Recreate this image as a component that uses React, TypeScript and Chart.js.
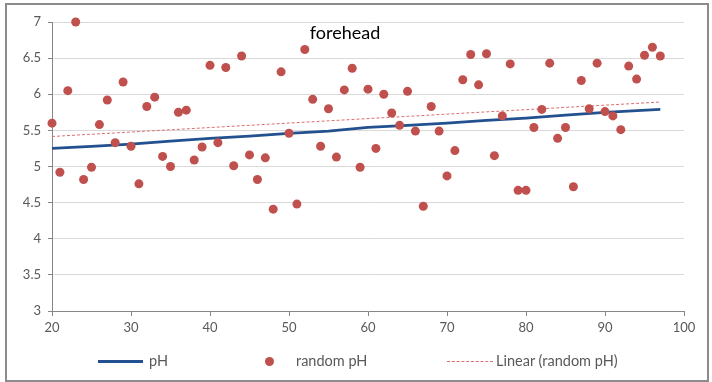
import React, { useEffect, useRef } from "react";
import { Chart, registerables } from "chart.js";

Chart.register(...registerables);

const ages: number[] = [
  20, 21, 22, 23, 24, 25, 26, 27, 28, 29, 30, 31, 32, 33, 34, 35, 36, 37, 38, 39,
  40, 41, 42, 43, 44, 45, 46, 47, 48, 49, 50, 51, 52, 53, 54, 55, 56, 57, 58, 59,
  60, 61, 62, 63, 64, 65, 66, 67, 68, 69, 70, 71, 72, 73, 74, 75, 76, 77, 78, 79,
  80, 81, 82, 83, 84, 85, 86, 87, 88, 89, 90, 91, 92, 93, 94, 95, 96, 97,
];
const randomPH: number[] = [
  5.6, 4.92, 6.05, 7.0, 4.82, 4.99, 5.58, 5.92, 5.33, 6.17, 5.28, 4.76, 5.83, 5.96, 5.14, 5.0, 5.75, 5.78, 5.09, 5.27,
  6.4, 5.33, 6.37, 5.01, 6.53, 5.16, 4.82, 5.12, 4.41, 6.31, 5.46, 4.48, 6.62, 5.93, 5.28, 5.8, 5.13, 6.06, 6.36, 4.99,
  6.07, 5.25, 6.0, 5.74, 5.57, 6.04, 5.49, 4.45, 5.83, 5.49, 4.87, 5.22, 6.2, 6.55, 6.13, 6.56, 5.15, 5.7, 6.42, 4.67,
  4.67, 5.54, 5.79, 6.43, 5.39, 5.54, 4.72, 6.19, 5.8, 6.43, 5.76, 5.7, 5.51, 6.39, 6.21, 6.54, 6.65, 6.53,
];
const phAges: number[] = [20, 25, 30, 35, 40, 45, 50, 55, 60, 65, 70, 75, 80, 85, 90, 97];
const phValues: number[] = [5.25, 5.28, 5.31, 5.35, 5.39, 5.42, 5.46, 5.49, 5.54, 5.57, 5.6, 5.64, 5.67, 5.71, 5.75, 5.79];
const xTicks: number[] = [20, 30, 40, 50, 60, 70, 80, 90, 100];
const yTicks: number[] = [3, 3.5, 4, 4.5, 5, 5.5, 6, 6.5, 7];
const titleText = "forehead";
const legendLabels = ["pH", "random pH", "Linear (random pH)"];

const BLUE = "#23508f";
const RED = "#c0504d";
const TREND = "#d9706e";
const FONT = "Lato, 'Open Sans', sans-serif";

function linearFit(xs: number[], ys: number[]) {
  const n = xs.length;
  let sx = 0, sy = 0, sxx = 0, sxy = 0;
  for (let i = 0; i < n; i++) {
    sx += xs[i]; sy += ys[i]; sxx += xs[i] * xs[i]; sxy += xs[i] * ys[i];
  }
  const slope = (n * sxy - sx * sy) / (n * sxx - sx * sx);
  const intercept = (sy - slope * sx) / n;
  return { slope, intercept };
}

const titlePlugin = {
  id: "insideTitle",
  afterDraw(chart: any) {
    const ctx = chart.ctx;
    ctx.save();
    ctx.font = `18px ${FONT}`;
    ctx.fillStyle = "#000";
    ctx.textAlign = "center";
    ctx.textBaseline = "middle";
    ctx.fillText(titleText, 345, 33);
    ctx.restore();
  },
};

export default function App() {
  const canvasRef = useRef<HTMLCanvasElement | null>(null);

  useEffect(() => {
    document.body.style.margin = "0";
    const fit = linearFit(ages, randomPH);
    const x0 = ages[0];
    const x1 = ages[ages.length - 1];
    const chart = new Chart(canvasRef.current as HTMLCanvasElement, {
      type: "scatter",
      data: {
        datasets: [
          {
            label: legendLabels[1],
            data: ages.map((a, i) => ({ x: a, y: randomPH[i] })),
            backgroundColor: RED,
            borderWidth: 0,
            pointRadius: 4.5,
            clip: false,
            order: 0,
          } as any,
          {
            label: legendLabels[0],
            type: "line",
            data: phAges.map((a, i) => ({ x: a, y: phValues[i] })),
            borderColor: BLUE,
            borderWidth: 2.75,
            pointRadius: 0,
            fill: false,
            tension: 0,
            order: 2,
          } as any,
          {
            label: legendLabels[2],
            type: "line",
            data: [
              { x: x0, y: fit.intercept + fit.slope * x0 },
              { x: x1, y: fit.intercept + fit.slope * x1 },
            ],
            borderColor: TREND,
            borderWidth: 1,
            borderDash: [3, 2],
            pointRadius: 0,
            fill: false,
            order: 1,
          } as any,
        ],
      },
      options: {
        animation: false,
        responsive: false,
        maintainAspectRatio: false,
        layout: { padding: { left: 0, top: 22, right: 28, bottom: 41 } },
        plugins: {
          legend: { display: false },
          tooltip: { enabled: false },
          title: { display: false },
        },
        scales: {
          x: {
            type: "linear",
            min: 20,
            max: 100,
            afterBuildTicks: (s: any) => {
              s.ticks = xTicks.map((v) => ({ value: v }));
            },
            afterFit: (s: any) => {
              s.height = 30;
            },
            border: { color: "#868686", width: 1 },
            grid: {
              drawOnChartArea: false,
              drawTicks: true,
              tickLength: 5,
              tickColor: "#868686",
            },
            ticks: {
              font: { family: FONT, size: 13 },
              color: "#595959",
              padding: 4,
              maxRotation: 0,
              callback: (v: any) => `${v}`,
            },
          },
          y: {
            type: "linear",
            min: 3,
            max: 7,
            afterBuildTicks: (s: any) => {
              s.ticks = yTicks.map((v) => ({ value: v }));
            },
            afterFit: (s: any) => {
              s.width = 52;
            },
            border: { color: "#868686", width: 1 },
            grid: {
              color: "#d9d9d9",
              lineWidth: 1,
              drawTicks: true,
              tickLength: 4,
              tickColor: "#868686",
            },
            ticks: {
              font: { family: FONT, size: 13 },
              color: "#595959",
              padding: 7,
              callback: (v: any) => `${v}`,
            },
          },
        },
      },
      plugins: [titlePlugin],
    } as any);
    return () => chart.destroy();
  }, []);

  const textStyle: React.CSSProperties = {
    position: "absolute",
    top: 352,
    height: 18,
    lineHeight: "18px",
    fontFamily: FONT,
    fontSize: 14.5,
    color: "#595959",
    whiteSpace: "nowrap",
  };

  return (
    <div style={{ position: "relative", width: 712, height: 382, background: "#fff", overflow: "hidden" }}>
      <canvas ref={canvasRef} width={712} height={382} style={{ position: "absolute", left: 0, top: 0, width: 712, height: 382 }} />
      <div
        style={{
          position: "absolute",
          left: 5,
          top: 3,
          width: 704,
          height: 379,
          boxSizing: "border-box",
          border: "2px solid #8c8c8c",
          pointerEvents: "none",
        }}
      />
      <div style={{ position: "absolute", left: 98, top: 359.5, width: 45, height: 3, background: BLUE }} />
      <div style={{ ...textStyle, left: 149 }}>{legendLabels[0]}</div>
      <div style={{ position: "absolute", left: 264.5, top: 356.5, width: 9, height: 9, borderRadius: "50%", background: RED }} />
      <div style={{ ...textStyle, left: 296 }}>{legendLabels[1]}</div>
      <div style={{ position: "absolute", left: 447, top: 360.5, width: 46, height: 0, borderTop: `1px dashed ${TREND}` }} />
      <div style={{ ...textStyle, left: 496 }}>{legendLabels[2]}</div>
    </div>
  );
}
